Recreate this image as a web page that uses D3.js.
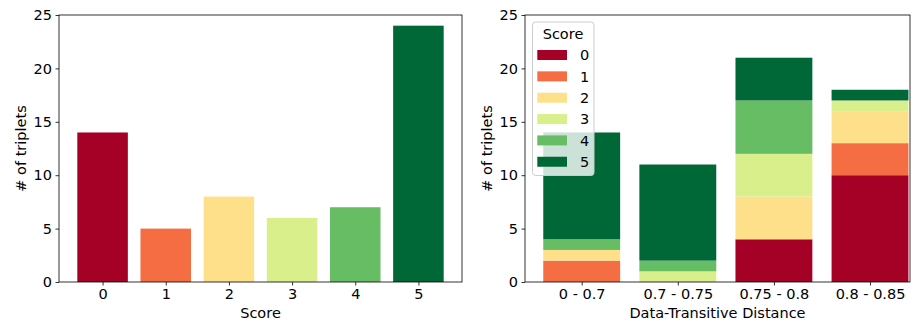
<!DOCTYPE html>
<html><head><meta charset="utf-8">
<script src="https://cdn.jsdelivr.net/npm/d3@7"></script>
<style>
body{margin:0;background:#fff;}
text{font-family:"DejaVu Sans",sans-serif;fill:#000;}
</style></head>
<body><svg id="c" width="915" height="322"></svg>
<script>
const scores = ["0","1","2","3","4","5"];
const scoreCounts = [14,5,8,6,7,24];
const colors = ["#a50026","#f46d43","#fee08b","#d9ef8b","#66bd63","#006837"];
const distances = ["0 - 0.7","0.7 - 0.75","0.75 - 0.8","0.8 - 0.85"];
const s0 = [0,0,4,10];
const s1 = [2,0,0,3];
const s2 = [1,0,4,3];
const s3 = [0,1,4,1];
const s4 = [1,1,5,0];
const s5 = [10,9,4,1];
const yTicks = [0,5,10,15,20,25];

const svg = d3.select("#c");
const fs = 14.5;

function panel(x0, x1, y0, y1, n, xlabel, rightPad){
  const g = svg.append("g");
  const w = 0.8, m = (n - 1 + w) * 0.05;
  const rp = rightPad === undefined ? m : rightPad;
  const x = d3.scaleLinear().domain([-w/2 - m, n - 1 + w/2 + rp]).range([x0, x1]);
  const y = d3.scaleLinear().domain([0, 25]).range([y1, y0]);
  return {g, x, y, w, x0, x1, y0, y1, xlabel};
}
function axes(p, cats){
  const {g, x, y, x0, x1, y0, y1} = p;
  const xa = g.append("g").attr("transform", `translate(0,${y1})`)
    .call(d3.axisBottom(x).tickValues(d3.range(cats.length)).tickFormat(i => cats[i]).tickSize(3.5).tickPadding(3.5));
  const ya = g.append("g").attr("transform", `translate(${x0},0)`)
    .call(d3.axisLeft(y).tickValues(yTicks).tickSize(3.5).tickPadding(3.5));
  [xa, ya].forEach(a => {
    a.select(".domain").remove();
    a.selectAll("text").style("font-size", fs + "px").style("font-family", "DejaVu Sans");
    a.selectAll("line").attr("stroke", "#000").attr("stroke-width", 0.8);
  });
  g.append("rect").attr("x", x0).attr("y", y0).attr("width", x1 - x0).attr("height", y1 - y0)
    .attr("fill", "none").attr("stroke", "#000").attr("stroke-width", 0.8);
  g.append("text").attr("x", (x0 + x1) / 2).attr("y", y1 + 36).attr("text-anchor", "middle")
    .style("font-size", fs + "px").text(p.xlabel);
  g.append("text").attr("transform", `translate(${x0 - 33},${(y0 + y1) / 2}) rotate(-90)`)
    .attr("text-anchor", "middle").style("font-size", fs + "px").text("# of triplets");
}

// Left panel
const L = panel(59, 462, 15, 282, scores.length, "Score");
L.g.selectAll("rect.bar").data(scoreCounts).enter().append("rect")
  .attr("x", (d, i) => L.x(i - L.w / 2)).attr("width", (d, i) => L.x(i + L.w / 2) - L.x(i - L.w / 2))
  .attr("y", d => L.y(d)).attr("height", d => L.y(0) - L.y(d))
  .attr("fill", (d, i) => colors[i]);
axes(L, scores);

// Right panel
const R = panel(525, 910, 15, 282, distances.length, "Data-Transitive Distance", 0.016);
const series = [s0, s1, s2, s3, s4, s5];
const rows = distances.map((c, i) => { const o = {idx: i}; series.forEach((s, k) => o["s" + k] = s[i]); return o; });
const stack = d3.stack().keys(series.map((s, k) => "s" + k))(rows);
stack.forEach((layer, k) => {
  R.g.selectAll(null).data(layer).enter().append("rect")
    .attr("x", d => R.x(d.data.idx - R.w / 2)).attr("width", d => R.x(d.data.idx + R.w / 2) - R.x(d.data.idx - R.w / 2))
    .attr("y", d => R.y(d[1])).attr("height", d => R.y(d[0]) - R.y(d[1]))
    .attr("fill", colors[k]);
});
axes(R, distances);

// Legend
const lg = svg.append("g");
lg.append("rect").attr("x", 532.5).attr("y", 22).attr("width", 61.5).attr("height", 153.5).attr("rx", 3)
  .attr("fill", "#fff").attr("fill-opacity", 0.8).attr("stroke", "#ccc").attr("stroke-width", 1);
lg.append("text").attr("x", 563).attr("y", 39).attr("text-anchor", "middle").style("font-size", fs + "px").text("Score");
scores.forEach((s, i) => {
  const cy = 55 + i * 21.35;
  lg.append("rect").attr("x", 537.3).attr("y", cy - 5).attr("width", 29.7).attr("height", 10).attr("fill", colors[i]);
  lg.append("text").attr("x", 580).attr("y", cy + 5.2).style("font-size", fs + "px").text(s);
});
</script></body></html>
